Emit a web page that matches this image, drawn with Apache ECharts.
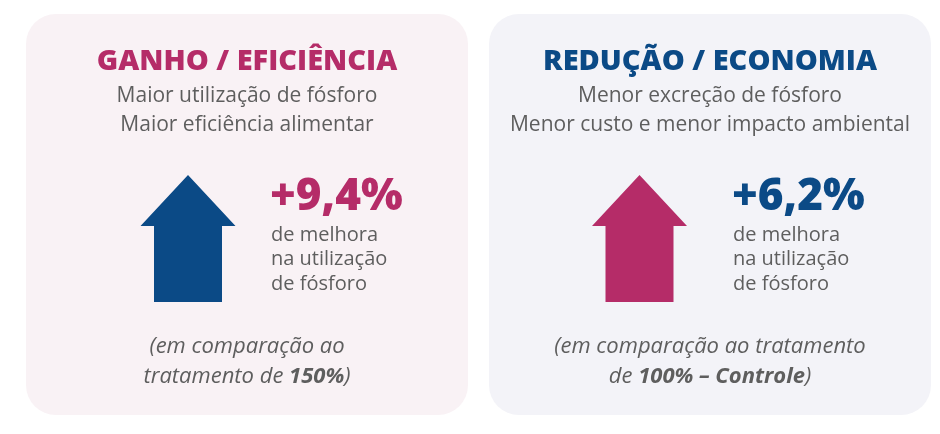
<!DOCTYPE html>
<html>
<head>
<meta charset="utf-8">
<script src="https://cdn.jsdelivr.net/npm/echarts@6/dist/echarts.min.js"></script>
<style>
html,body{margin:0;padding:0;background:#ffffff;}
#chart{width:940px;height:434px;}
</style>
</head>
<body>
<div id="chart"></div>
<script>
// ---- data ----
const panelTitles = ['GANHO / EFICIÊNCIA', 'REDUÇÃO / ECONOMIA'];
const subtitleLine1 = ['Maior utilização de fósforo', 'Menor excreção de fósforo'];
const subtitleLine2 = ['Maior eficiência alimentar', 'Menor custo e menor impacto ambiental'];
const improvementPct = [9.4, 6.2];
const descriptionLines = ['de melhora', 'na utilização', 'de fósforo'];
const noteLine1 = ['(em comparação ao', '(em comparação ao tratamento'];
const noteLine2Plain = ['tratamento de ', 'de '];
const noteLine2Bold = ['150%', '100% – Controle'];

// ---- style ----
const FONT = '"Open Sans", "Noto Sans", sans-serif';
const MAGENTA = '#b52c68';
const NAVY = '#0b4a86';
const GRAY = '#5e5e5e';
const cardFill = ['#f9f2f5', '#f3f3f8'];
const titleColor = [MAGENTA, NAVY];
const arrowColor = [NAVY, MAGENTA];
const numberColor = [MAGENTA, NAVY];

const cardLeft = [26, 489];
const cardWidth = 442;
const cardTop = 14, cardHeight = 401;
const arrowCx = [188, 639.5];
const numberX = [270, 732];

function fmt(v) { return '+' + v.toFixed(1).replace('.', ',') + '%'; }

function arrowPoints(cx) {
  const tipY = 175, headY = 226, bottom = 302;
  const headHalf = 47.5, shaftHalf = 34;
  return [
    [cx, tipY], [cx + headHalf, headY], [cx + shaftHalf, headY],
    [cx + shaftHalf, bottom], [cx - shaftHalf, bottom],
    [cx - shaftHalf, headY], [cx - headHalf, headY]
  ];
}

const graphics = [];
panelTitles.forEach(function (title, i) {
  const cx = cardLeft[i] + cardWidth / 2;
  graphics.push({
    type: 'rect', z: 0,
    shape: { x: cardLeft[i], y: cardTop, width: cardWidth, height: cardHeight, r: 30 },
    style: { fill: cardFill[i] }
  });
  graphics.push({
    type: 'text', z: 2,
    style: { x: cx, y: 62, text: title, fill: titleColor[i], font: '800 29px ' + FONT, textAlign: 'center', textVerticalAlign: 'middle' }
  });
  graphics.push({
    type: 'text', z: 2,
    style: { x: cx, y: 96, text: subtitleLine1[i], fill: GRAY, font: '21px ' + FONT, textAlign: 'center', textVerticalAlign: 'middle' }
  });
  graphics.push({
    type: 'text', z: 2,
    style: { x: cx, y: 125, text: subtitleLine2[i], fill: GRAY, font: '21px ' + FONT, textAlign: 'center', textVerticalAlign: 'middle' }
  });
  graphics.push({
    type: 'polygon', z: 2,
    shape: { points: arrowPoints(arrowCx[i]) },
    style: { fill: arrowColor[i] }
  });
  graphics.push({
    type: 'text', z: 2,
    style: { x: numberX[i], y: 197, text: fmt(improvementPct[i]), fill: numberColor[i], font: '800 44px ' + FONT, textAlign: 'left', textVerticalAlign: 'middle' }
  });
  descriptionLines.forEach(function (line, k) {
    graphics.push({
      type: 'text', z: 2,
      style: { x: numberX[i] + 1, y: 235 + k * 24.5, text: line, fill: GRAY, font: '20px ' + FONT, textAlign: 'left', textVerticalAlign: 'middle' }
    });
  });
  graphics.push({
    type: 'text', z: 2,
    style: { x: cx, y: 347, text: noteLine1[i], fill: GRAY, font: 'italic 22px ' + FONT, textAlign: 'center', textVerticalAlign: 'middle' }
  });
  graphics.push({
    type: 'text', z: 2,
    style: {
      x: cx, y: 377,
      text: '{p|' + noteLine2Plain[i] + '}{b|' + noteLine2Bold[i] + '}{p|)}',
      textAlign: 'center', textVerticalAlign: 'middle',
      rich: {
        p: { fill: GRAY, fontFamily: FONT, fontSize: 22, fontStyle: 'italic' },
        b: { fill: GRAY, fontFamily: FONT, fontSize: 22, fontStyle: 'italic', fontWeight: 'bold' }
      }
    }
  });
});

const chart = echarts.init(document.getElementById('chart'), null, { renderer: 'canvas' });
chart.setOption({
  backgroundColor: '#ffffff',
  animation: false,
  graphic: { elements: graphics }
});
</script>
</body>
</html>
